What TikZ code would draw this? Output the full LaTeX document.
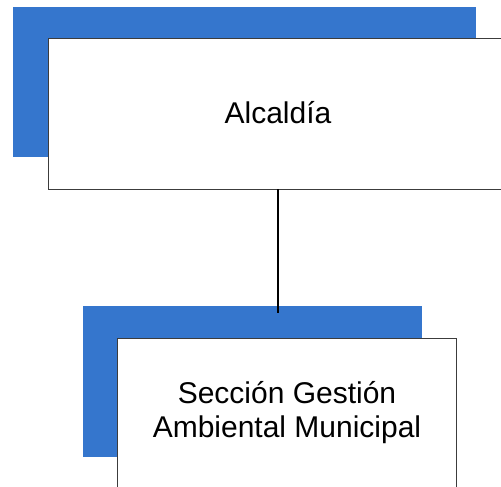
\documentclass[tikz,border=0pt]{standalone}
\usepackage{fontspec}
\setmainfont{Liberation Sans}
\definecolor{shadeblue}{RGB}{53,118,205}
\definecolor{edgegray}{RGB}{60,60,60}
\begin{document}
\begin{tikzpicture}[x=1pt,y=-1pt,
  shadow/.style={fill=shadeblue,draw=none},
  card/.style={fill=white,draw=edgegray,line width=1pt},
  lbl/.style={font=\fontsize{30}{34}\selectfont,align=center,text=black},
  link/.style={draw=black,line width=2pt}]
\useasboundingbox (0,0) rectangle (501,487);
\clip (0,0) rectangle (501,487);
% top unit
\fill[shadow] (13,7) rectangle (476,157);
\path[card] (48,39) rectangle (510,189);
\node[lbl] (alc) at (278,113) {Alcaldía};
% bottom unit
\fill[shadow] (83,306) rectangle (422,457);
\path[card] (117,338) rectangle (456,500);
\node[lbl] (sec) at (287,413) {Sección Gestión\\Ambiental Municipal};
\coordinate (topb) at (278,189);
\coordinate (botb) at (278,313);
\draw[link] (topb) -- (botb);
\end{tikzpicture}
\end{document}
